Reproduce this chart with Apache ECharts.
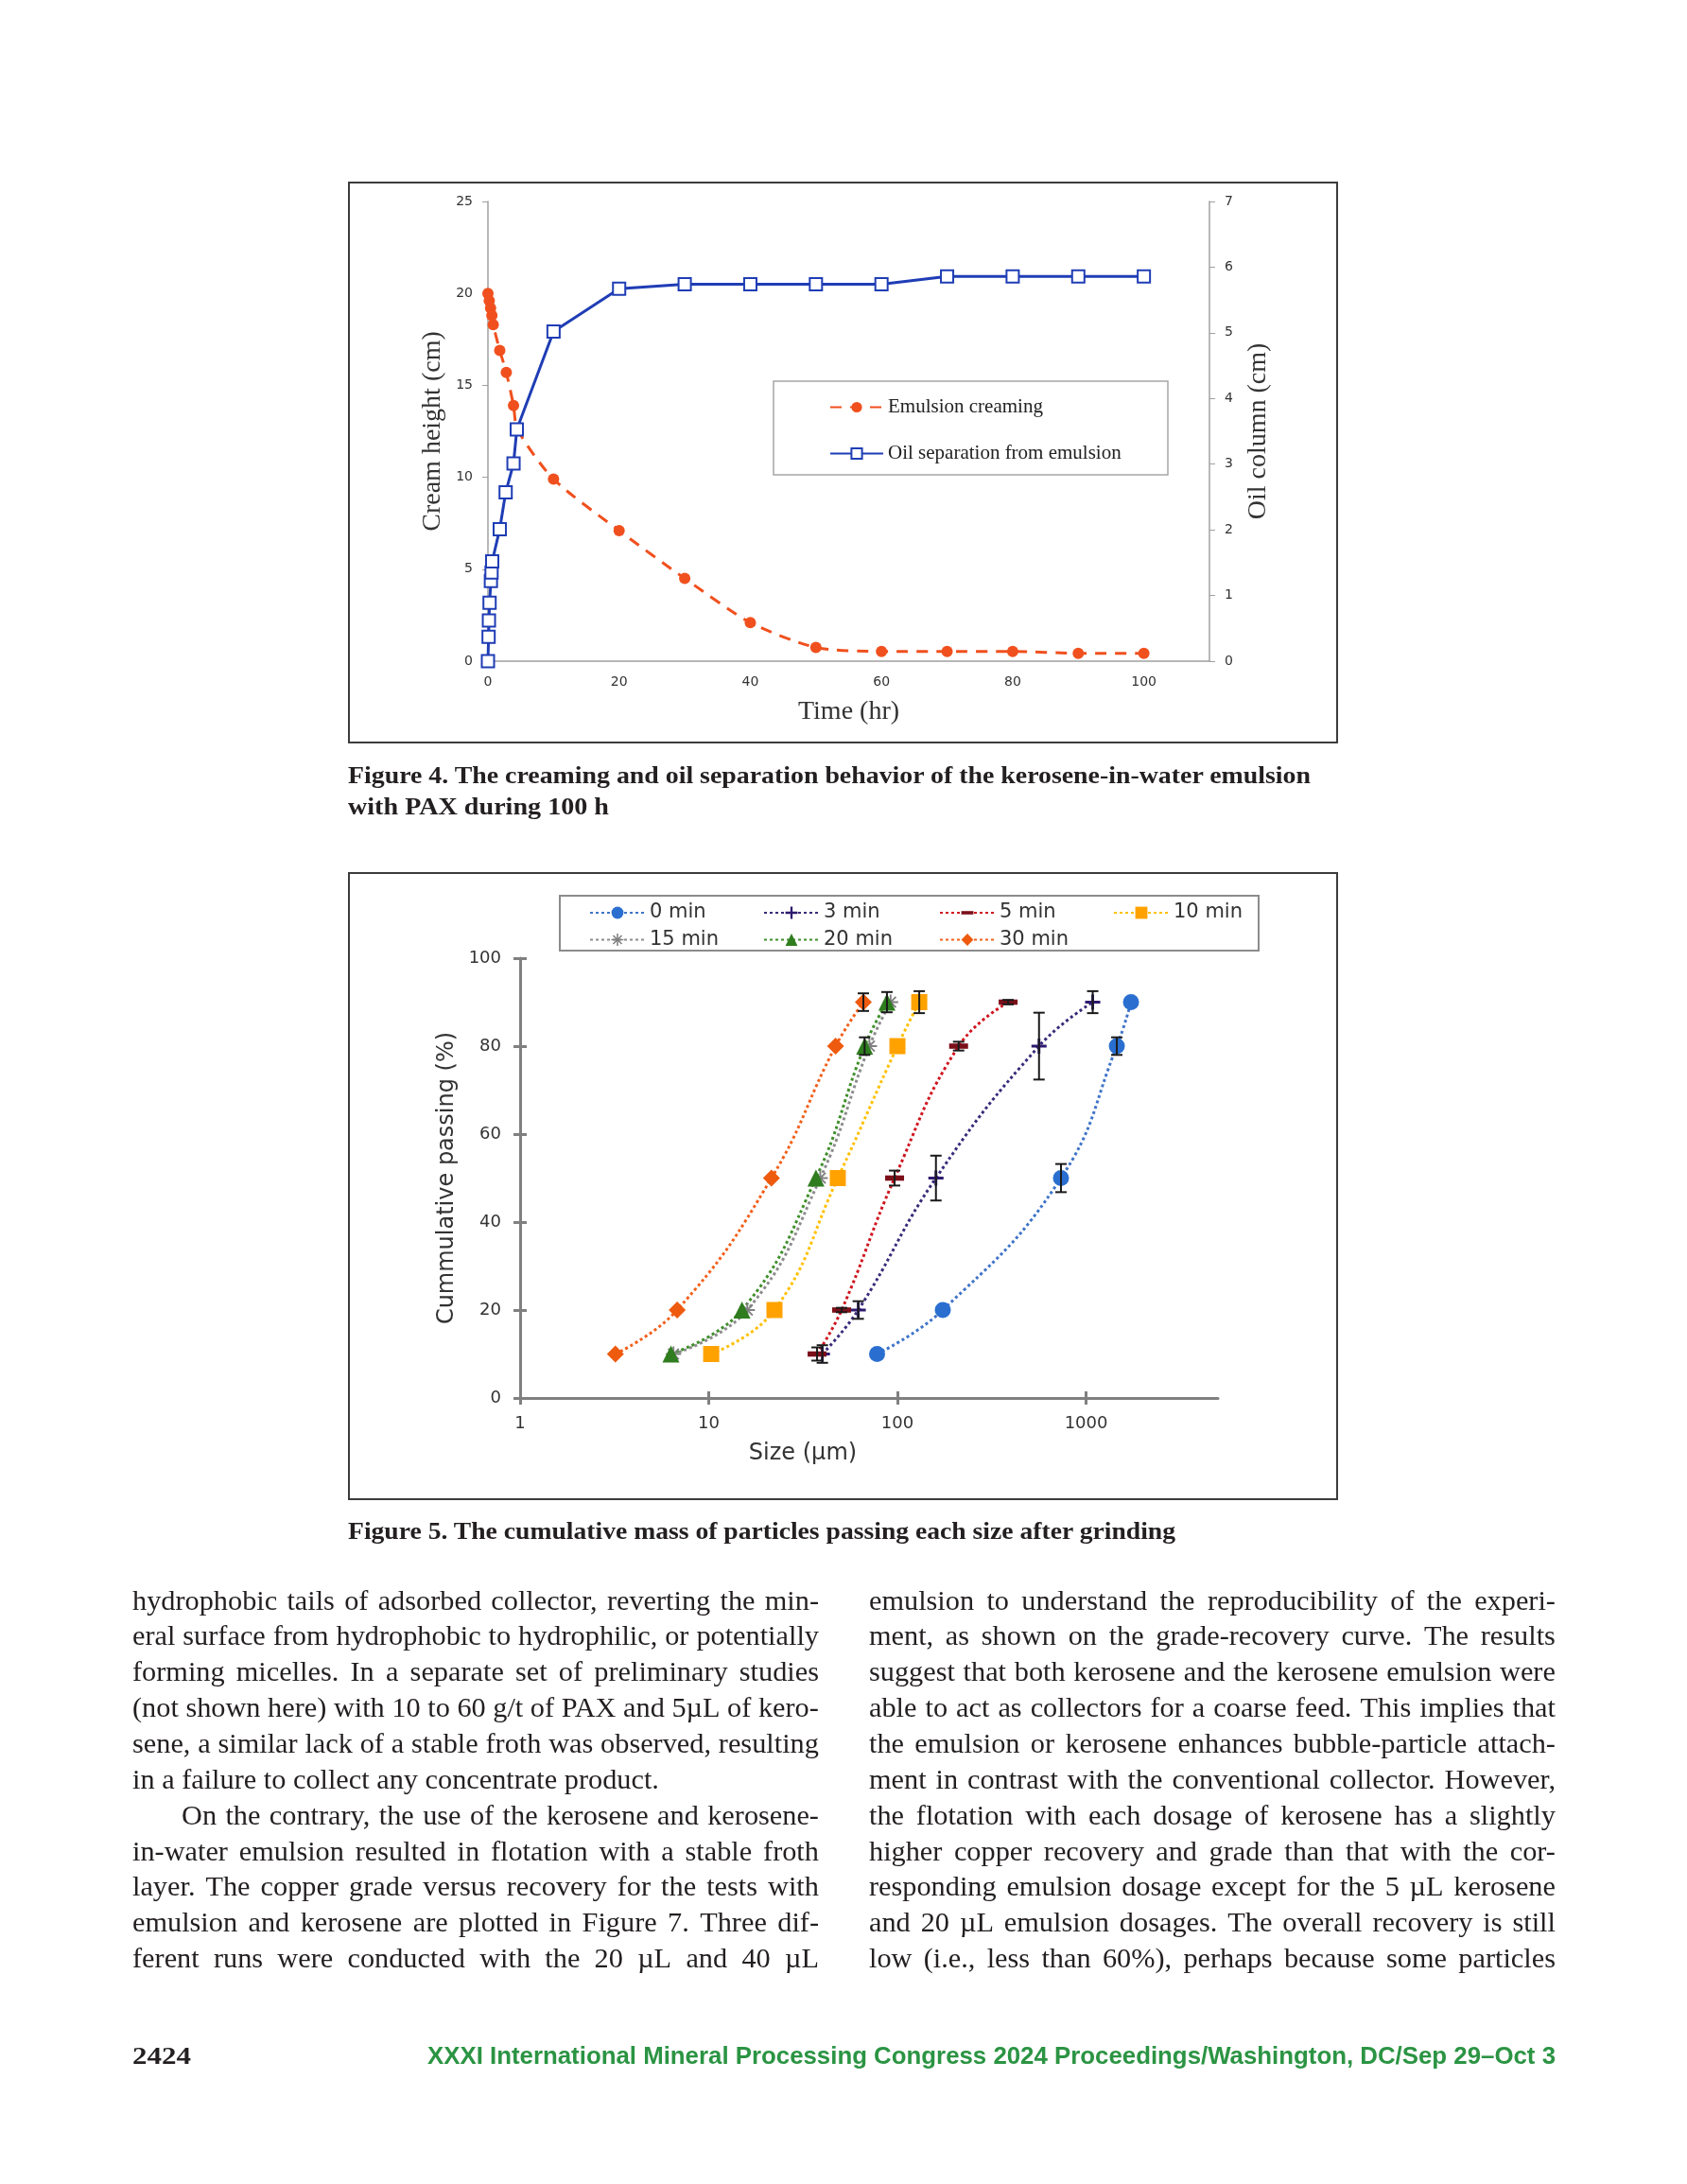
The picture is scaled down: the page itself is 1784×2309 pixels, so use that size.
<!DOCTYPE html>
<html><head><meta charset="utf-8">
<script src="https://cdn.jsdelivr.net/npm/echarts@6/dist/echarts.min.js"></script>
<style>
html,body{margin:0;padding:0;background:#fff;}
#page{position:relative;width:1784px;height:2309px;overflow:hidden;background:#fff;}
.chart{position:absolute;}
.frame{position:absolute;box-sizing:border-box;border:2px solid #3c3c3c;pointer-events:none;}
.line{position:absolute;white-space:nowrap;font-family:'Liberation Serif',serif;color:#231f20;line-height:1;}
.just{display:flex;justify-content:space-between;}
</style></head>
<body><div id="page">
<div id="c1" class="chart" style="left:368px;top:192px;width:1047px;height:594px"></div>
<div class="frame" style="left:368px;top:192px;width:1047px;height:594px"></div>
<div id="c2" class="chart" style="left:368px;top:922px;width:1047px;height:664px"></div>
<div class="frame" style="left:368px;top:922px;width:1047px;height:664px"></div>
<svg width="1784" height="2309" style="position:absolute;left:0;top:0;pointer-events:none" xmlns="http://www.w3.org/2000/svg">
<g font-family="Liberation Serif" font-weight="bold" font-size="26" fill="#231f20">
<text x="368" y="828" textLength="1018" lengthAdjust="spacingAndGlyphs">Figure 4. The creaming and oil separation behavior of the kerosene-in-water emulsion</text>
<text x="368" y="861" textLength="276" lengthAdjust="spacingAndGlyphs">with PAX during 100 h</text>
<text x="368" y="1627" textLength="875" lengthAdjust="spacingAndGlyphs">Figure 5. The cumulative mass of particles passing each size after grinding</text>
<text x="140" y="2182" textLength="62" lengthAdjust="spacingAndGlyphs">2424</text>
</g>
<text x="452" y="2182" textLength="1193" lengthAdjust="spacingAndGlyphs" font-family="Liberation Sans" font-weight="bold" font-size="25" fill="#2b9443">XXXI International Mineral Processing Congress 2024 Proceedings/Washington, DC/Sep 29–Oct 3</text>
</svg>
</div>
<script>
// ---------- Figure 4 data ----------
const creamTime   = [0, 0.2, 0.4, 0.6, 0.8, 1.8, 2.8, 3.9, 4.5, 10, 20, 30, 40, 50, 60, 70, 80, 90, 100];
const creamHeight = [20.0, 19.6, 19.2, 18.8, 18.3, 16.9, 15.7, 13.9, 12.6, 9.9, 7.1, 4.5, 2.1, 0.75, 0.53, 0.53, 0.53, 0.43, 0.43];
const oilTime     = [0, 0.1, 0.15, 0.25, 0.45, 0.55, 0.65, 1.8, 2.7, 3.9, 4.4, 10, 20, 30, 40, 50, 60, 70, 80, 90, 100];
const oilColumn   = [0, 0.37, 0.62, 0.89, 1.22, 1.35, 1.52, 2.01, 2.57, 3.01, 3.53, 5.02, 5.67, 5.74, 5.74, 5.74, 5.74, 5.86, 5.86, 5.86, 5.86];
const fig4Names   = ['Emulsion creaming', 'Oil separation from emulsion'];

// ---------- Figure 5 data ----------
const passing  = [10, 20, 50, 80, 90];
const names5   = ['0 min', '3 min', '5 min', '10 min', '15 min', '20 min', '30 min'];
const size0    = [78, 174, 736, 1455, 1730];
const size3    = [40, 62, 160, 563, 1084];
const size5    = [37.5, 50.6, 96.6, 211, 386];
const size10   = [10.3, 22.3, 48.3, 100, 130.5];
const size15   = [6.5, 16, 39, 71, 92];
const size20   = [6.3, 15, 37, 67, 88];
const size30   = [3.2, 6.8, 21.5, 47, 66];
const err0     = [0, 0, 3.2, 2.0, 0];
const err3     = [2, 2, 5.1, 7.6, 2.5];
const err5     = [1.5, 0.5, 1.7, 1, 0.5];
const err10    = [0, 0, 0, 0, 2.5];
const err15    = [0, 0, 0, 0, 0];
const err20    = [0, 0, 0, 2, 2.3];
const err30    = [0, 0, 0, 0, 2];
const xTicks5  = [1, 10, 100, 1000];

// ---------- Body text ----------
const leftLines = [
 'hydrophobic tails of adsorbed collector, reverting the min-',
 'eral surface from hydrophobic to hydrophilic, or potentially',
 'forming micelles. In a separate set of preliminary studies',
 '(not shown here) with 10 to 60 g/t of PAX and 5µL of kero-',
 'sene, a similar lack of a stable froth was observed, resulting',
 'in a failure to collect any concentrate product.',
 'On the contrary, the use of the kerosene and kerosene-',
 'in-water emulsion resulted in flotation with a stable froth',
 'layer. The copper grade versus recovery for the tests with',
 'emulsion and kerosene are plotted in Figure 7. Three dif-',
 'ferent runs were conducted with the 20 µL and 40 µL'
];
const rightLines = [
 'emulsion to understand the reproducibility of the experi-',
 'ment, as shown on the grade-recovery curve. The results',
 'suggest that both kerosene and the kerosene emulsion were',
 'able to act as collectors for a coarse feed. This implies that',
 'the emulsion or kerosene enhances bubble-particle attach-',
 'ment in contrast with the conventional collector. However,',
 'the flotation with each dosage of kerosene has a slightly',
 'higher copper recovery and grade than that with the cor-',
 'responding emulsion dosage except for the 5 µL kerosene',
 'and 20 µL emulsion dosages. The overall recovery is still',
 'low (i.e., less than 60%), perhaps because some particles'
];

const page = document.getElementById('page');
// pick a font size so the widest justified line still fits its column
const mctx = document.createElement('canvas').getContext('2d');
mctx.font = '100px "Liberation Serif"';
let fs = 31;
leftLines.forEach((t, i) => { if (i === 5) return; const w = (i === 6 ? 866 - 192 : 866 - 140); fs = Math.min(fs, 100 * w / mctx.measureText(t).width); });
rightLines.forEach(t => { fs = Math.min(fs, 100 * (1645 - 919) / mctx.measureText(t).width); });
fs = Math.floor(fs * 10) / 10;

function addLine(text, x, right, baseline, justify) {
  const d = document.createElement('div');
  d.className = 'line' + (justify ? ' just' : '');
  d.style.fontSize = fs + 'px';
  d.style.left = x + 'px';
  d.style.top = (baseline - 0.8375 * fs) + 'px';
  if (justify) {
    d.style.width = (right - x) + 'px';
    text.split(' ').forEach(w => { const s = document.createElement('span'); s.textContent = w; d.appendChild(s); });
  } else {
    d.textContent = text;
  }
  page.appendChild(d);
}
leftLines.forEach((t, i) => {
  const b = 1702 + i * 37.85;
  const x = (i === 6) ? 192 : 140;
  addLine(t, x, 866, b, i !== 5);
});
rightLines.forEach((t, i) => {
  addLine(t, 919, 1645, 1702 + i * 37.85, true);
});

// ---------- Chart 1 ----------
const zip = (a, b) => a.map((v, i) => [v, b[i]]);
const axisGrey = '#a0a0a0';
const tickFont = {fontFamily: 'DejaVu Sans', fontSize: 14, color: '#333'};
const serifTitle = {fontFamily: 'Liberation Serif', fontSize: 28, color: '#333'};
const c1 = echarts.init(document.getElementById('c1'), null, {renderer: 'canvas'});
c1.setOption({
  animation: false,
  backgroundColor: '#fff',
  grid: {left: 148, right: 136, top: 21, bottom: 87},
  xAxis: {
    type: 'value', min: 0, max: 110, interval: 20,
    axisLine: {lineStyle: {color: axisGrey, width: 1.5}},
    axisTick: {show: false}, splitLine: {show: false},
    axisLabel: Object.assign({showMaxLabel: false, margin: 15}, tickFont),
    name: 'Time (hr)', nameLocation: 'middle', nameGap: 40, nameTextStyle: serifTitle
  },
  yAxis: [
    {type: 'value', min: 0, max: 25, interval: 5, position: 'left',
     axisLine: {show: true, lineStyle: {color: axisGrey, width: 1.5}},
     axisTick: {show: true, length: 6, lineStyle: {color: axisGrey}}, splitLine: {show: false},
     axisLabel: Object.assign({margin: 16}, tickFont),
     name: 'Cream height (cm)', nameLocation: 'middle', nameGap: 44, nameTextStyle: serifTitle},
    {type: 'value', min: 0, max: 7, interval: 1, position: 'right',
     axisLine: {show: true, lineStyle: {color: axisGrey, width: 1.5}},
     axisTick: {show: true, length: 6, lineStyle: {color: axisGrey}}, splitLine: {show: false},
     axisLabel: Object.assign({margin: 16}, tickFont),
     name: 'Oil column (cm)', nameLocation: 'middle', nameGap: 38, nameTextStyle: serifTitle}
  ],
  legend: {
    data: fig4Names, orient: 'vertical', left: 504, top: 223, itemWidth: 56, itemHeight: 14, itemGap: 28,
    selectedMode: false,
    textStyle: {fontFamily: 'Liberation Serif', fontSize: 21, color: '#222'}
  },
  graphic: [{type: 'rect', shape: {x: 450, y: 211, width: 417, height: 99}, style: {fill: 'none', stroke: '#a6a6a6', lineWidth: 1.5}}],
  series: [
    {name: fig4Names[0], type: 'line', yAxisIndex: 0, data: zip(creamTime, creamHeight), smooth: 0.25,
     symbol: 'circle', symbolSize: 12, itemStyle: {color: '#f0501e'},
     lineStyle: {color: '#f0501e', width: 3, type: [12, 9]}},
    {name: fig4Names[1], type: 'line', yAxisIndex: 1, data: zip(oilTime, oilColumn),
     symbol: 'rect', symbolSize: 13, itemStyle: {color: '#fff', borderColor: '#1f3db5', borderWidth: 2},
     lineStyle: {color: '#1f3db5', width: 3}}
  ]
});

// ---------- Chart 2 ----------
const sizes5 = [size0, size3, size5, size10, size15, size20, size30];
const errs5 = [err0, err3, err5, err10, err15, err20, err30];
const markColors = ['#2a6fd0', '#2e1a6e', '#7b0f1a', '#ffa200', '#808080', '#2f7d1f', '#ee5a0e'];
const lineColors = ['#3f74c8', '#3a2a7a', '#d0141e', '#ffc000', '#8c8c8c', '#3f8f2a', '#f2601a'];
const plusPath = 'path://M4.1,0 H5.9 V4.1 H10 V5.9 H5.9 V10 H4.1 V5.9 H0 V4.1 H4.1 Z';
const dashPath = 'path://M0,0 M0,7.2 L20,7.2 L20,12.8 L0,12.8 Z M20,20';
const starPath = 'path://M4.4,0 H5.6 V3.55 L8.1,1.05 L8.95,1.9 L6.45,4.4 H10 V5.6 H6.45 L8.95,8.1 L8.1,8.95 L5.6,6.45 V10 H4.4 V6.45 L1.9,8.95 L1.05,8.1 L3.55,5.6 H0 V4.4 H3.55 L1.05,1.9 L1.9,1.05 L4.4,3.55 Z';
const symbols = ['circle', plusPath, dashPath, 'rect', starPath, 'triangle', 'diamond'];
const symSizes = [17, 16, 20, 17, 16, 18, 18];
const axisGrey2 = '#808080';
const labFont2 = {fontFamily: 'DejaVu Sans', fontSize: 18, color: '#333'};

function errRender(params, api) {
  const x = api.value(0), y = api.value(1), e = api.value(2);
  const t = api.coord([x, y + e]), b = api.coord([x, y - e]);
  const cw = 6, st = {stroke: '#1a1a1a', lineWidth: 2};
  return {type: 'group', children: [
    {type: 'line', shape: {x1: t[0], y1: t[1], x2: b[0], y2: b[1]}, style: st},
    {type: 'line', shape: {x1: t[0] - cw, y1: t[1], x2: t[0] + cw, y2: t[1]}, style: st},
    {type: 'line', shape: {x1: b[0] - cw, y1: b[1], x2: b[0] + cw, y2: b[1]}, style: st}
  ]};
}

const series2 = [];
names5.forEach((n, i) => {
  series2.push({
    name: n, type: 'line', data: zip(sizes5[i], passing), smooth: 0.45,
    symbol: symbols[i], symbolSize: symSizes[i], z: 3,
    itemStyle: {color: markColors[i]},
    lineStyle: {color: lineColors[i], width: 3, type: [3, 3]}
  });
});
names5.forEach((n, i) => {
  const d = sizes5[i].map((s, k) => [s, passing[k], errs5[i][k]]).filter(r => r[2] > 0);
  if (d.length) series2.push({type: 'custom', renderItem: errRender, data: d, encode: {x: 0, y: 1}, z: 4, silent: true});
});

const legendPos = [[250, 39.5], [434, 39.5], [620, 39.5], [804, 39.5], [250, 68], [434, 68], [620, 68]];
const legends2 = names5.map((n, i) => ({
  data: [n], left: legendPos[i][0], top: legendPos[i][1] - 12, itemWidth: 58, itemHeight: 16,
  selectedMode: false, textStyle: {fontFamily: 'DejaVu Sans', fontSize: 21, color: '#333'}
}));

const c2 = echarts.init(document.getElementById('c2'), null, {renderer: 'canvas'});
c2.setOption({
  animation: false,
  backgroundColor: '#fff',
  grid: {left: 182, right: 127, top: 91, bottom: 108},
  xAxis: [
    {type: 'log', logBase: 10, min: 1, max: 5000, position: 'bottom',
     axisLine: {lineStyle: {color: axisGrey2, width: 3}},
     axisTick: {show: true, length: 7, customValues: xTicks5, lineStyle: {color: axisGrey2, width: 3}},
     axisLabel: Object.assign({customValues: xTicks5, margin: 18, formatter: v => String(Math.round(v))}, labFont2),
     splitLine: {show: false}, minorTick: {show: false}},
    {type: 'log', logBase: 10, min: 1, max: 5000, position: 'bottom',
     axisLine: {show: false},
     axisTick: {show: true, inside: true, length: 7, customValues: xTicks5, lineStyle: {color: axisGrey2, width: 3}},
     axisLabel: {show: false}, splitLine: {show: false}}
  ],
  yAxis: [
    {type: 'value', min: 0, max: 100, interval: 20, position: 'left',
     axisLine: {show: true, lineStyle: {color: axisGrey2, width: 3}},
     axisTick: {show: true, length: 7, lineStyle: {color: axisGrey2, width: 3}},
     axisLabel: Object.assign({margin: 20}, labFont2), splitLine: {show: false},
     name: 'Cummulative passing (%)', nameLocation: 'middle', nameGap: 61,
     nameTextStyle: {fontFamily: 'DejaVu Sans', fontSize: 24, color: '#333'}},
    {type: 'value', min: 0, max: 100, interval: 20, position: 'left',
     axisLine: {show: false},
     axisTick: {show: true, inside: true, length: 7, lineStyle: {color: axisGrey2, width: 3}},
     axisLabel: {show: false}, splitLine: {show: false}}
  ],
  legend: legends2,
  graphic: [
    {type: 'rect', z: -1, shape: {x: 224, y: 25, width: 739, height: 58}, style: {fill: '#fff', stroke: '#8c8c8c', lineWidth: 2}},
    {type: 'text', x: 481, y: 615, style: {text: 'Size (µm)', font: '24px "DejaVu Sans"', fill: '#333', align: 'center', verticalAlign: 'middle'}}
  ],
  series: series2
});
</script>
</body></html>
